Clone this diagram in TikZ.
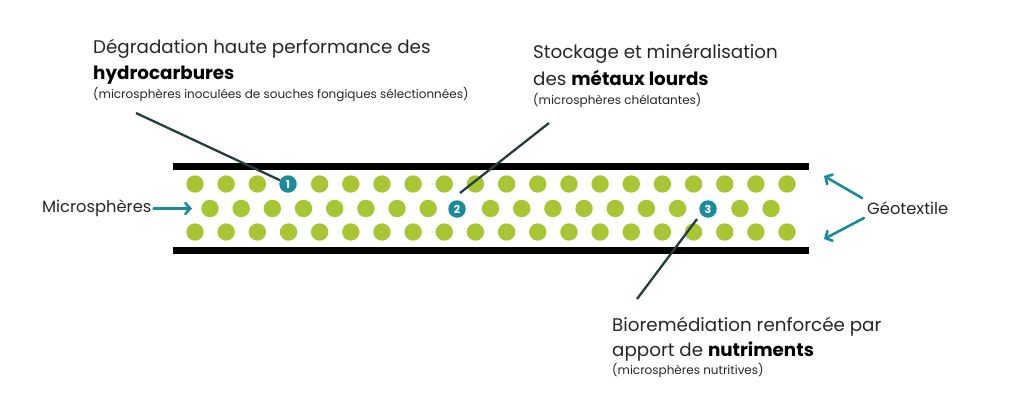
\documentclass[tikz,border=0pt]{standalone}
\usepackage{fontspec}
\setmainfont{Poppins}
\usetikzlibrary{arrows.meta}
\definecolor{teal1}{HTML}{1B8A9B}
\definecolor{green1}{HTML}{A8C634}
\definecolor{lead}{HTML}{263D3D}
\definecolor{txt}{HTML}{262626}
\begin{document}
\begin{tikzpicture}[x=1pt,y=-1pt,
  lbl/.style={inner sep=0pt,anchor=base west,text=txt},
  big/.style={lbl,font=\fontsize{18.3}{20}\selectfont},
  small/.style={lbl,font=\fontsize{12}{14}\selectfont},
  side/.style={inner sep=0pt,text=txt,font=\fontsize{16.3}{18}\selectfont},
  badge/.style={circle,fill=teal1,text=white,inner sep=0pt,minimum size=17.5pt,font=\bfseries\fontsize{11}{11}\selectfont},
  dot/.style={fill=green1},
  bar/.style={line width=7pt,black},
  leader/.style={line width=2.3pt,lead},
  tarrow/.style={line width=2.6pt,teal1,line cap=round,-{Straight Barb[length=5pt,width=11pt,line cap=round]}}
]
\path[use as bounding box] (0,0) rectangle (1024,417);
% bars
\draw[bar] (173,166.5) -- (809,166.5);
\draw[bar] (173,250) -- (809,250);
% dots
\foreach \i in {0,...,19}{
  \ifnum\i=3\else\fill[dot] (195+\i*31.16,184) circle (8.7);\fi
  \fill[dot] (195+\i*31.16,232) circle (8.7);
}
\foreach \i in {0,...,18}{
  \ifnum\i=8\else\ifnum\i=16\else\fill[dot] (210+\i*31.17,208.5) circle (8.7);\fi\fi
}
% badges
\node[badge] (b1) at (288,184) {1};
\node[badge] (b2) at (457,209) {2};
\node[badge] (b3) at (708,209) {3};
% texts block 1
\node[big] (t1a) at (93,54) {Dégradation haute performance des};
\node[big] (t1b) at (93,80) {\textbf{\color{black}hydrocarbures}};
\node[small] (t1c) at (93,99) {(microsphères inoculées de souches fongiques sélectionnées)};
% block 2
\node[big] (t2a) at (533,59) {Stockage et minéralisation};
\node[big] (t2b) at (533,86) {des \textbf{\color{black}métaux lourds}};
\node[small] (t2c) at (533,105) {(microsphères chélatantes)};
% block 3
\node[big] (t3a) at (612,331) {Bioremédiation renforcée par};
\node[big] (t3b) at (612,356) {apport de \textbf{\color{black}nutriments}};
\node[small] (t3c) at (612,374) {(microsphères nutritives)};
% side labels
\node[side,anchor=west] (ms) at (42,208.5) {Microsphères};
\node[side,anchor=west] (geo) at (867,208.5) {Géotextile};
% leader lines
\coordinate (l1) at (136,113);
\coordinate (l2a) at (549,123);
\coordinate (l2b) at (460,193);
\coordinate (l3a) at (697,219);
\coordinate (l3b) at (637,299);
\draw[leader] (l1) -- (b1);
\draw[leader] (l2a) -- (l2b);
\draw[leader] (l3a) -- (l3b);
% arrows
\coordinate (msend) at (192,208.5);
\draw[tarrow] (ms.east) ++(2,0) coordinate (msst) (msst) -- (msend);
\coordinate (g1s) at (862,198);
\coordinate (g1e) at (824,176);
\coordinate (g2s) at (864,218);
\coordinate (g2e) at (824,239);
\draw[tarrow] (g1s) -- (g1e);
\draw[tarrow] (g2s) -- (g2e);
\end{tikzpicture}
\end{document}
